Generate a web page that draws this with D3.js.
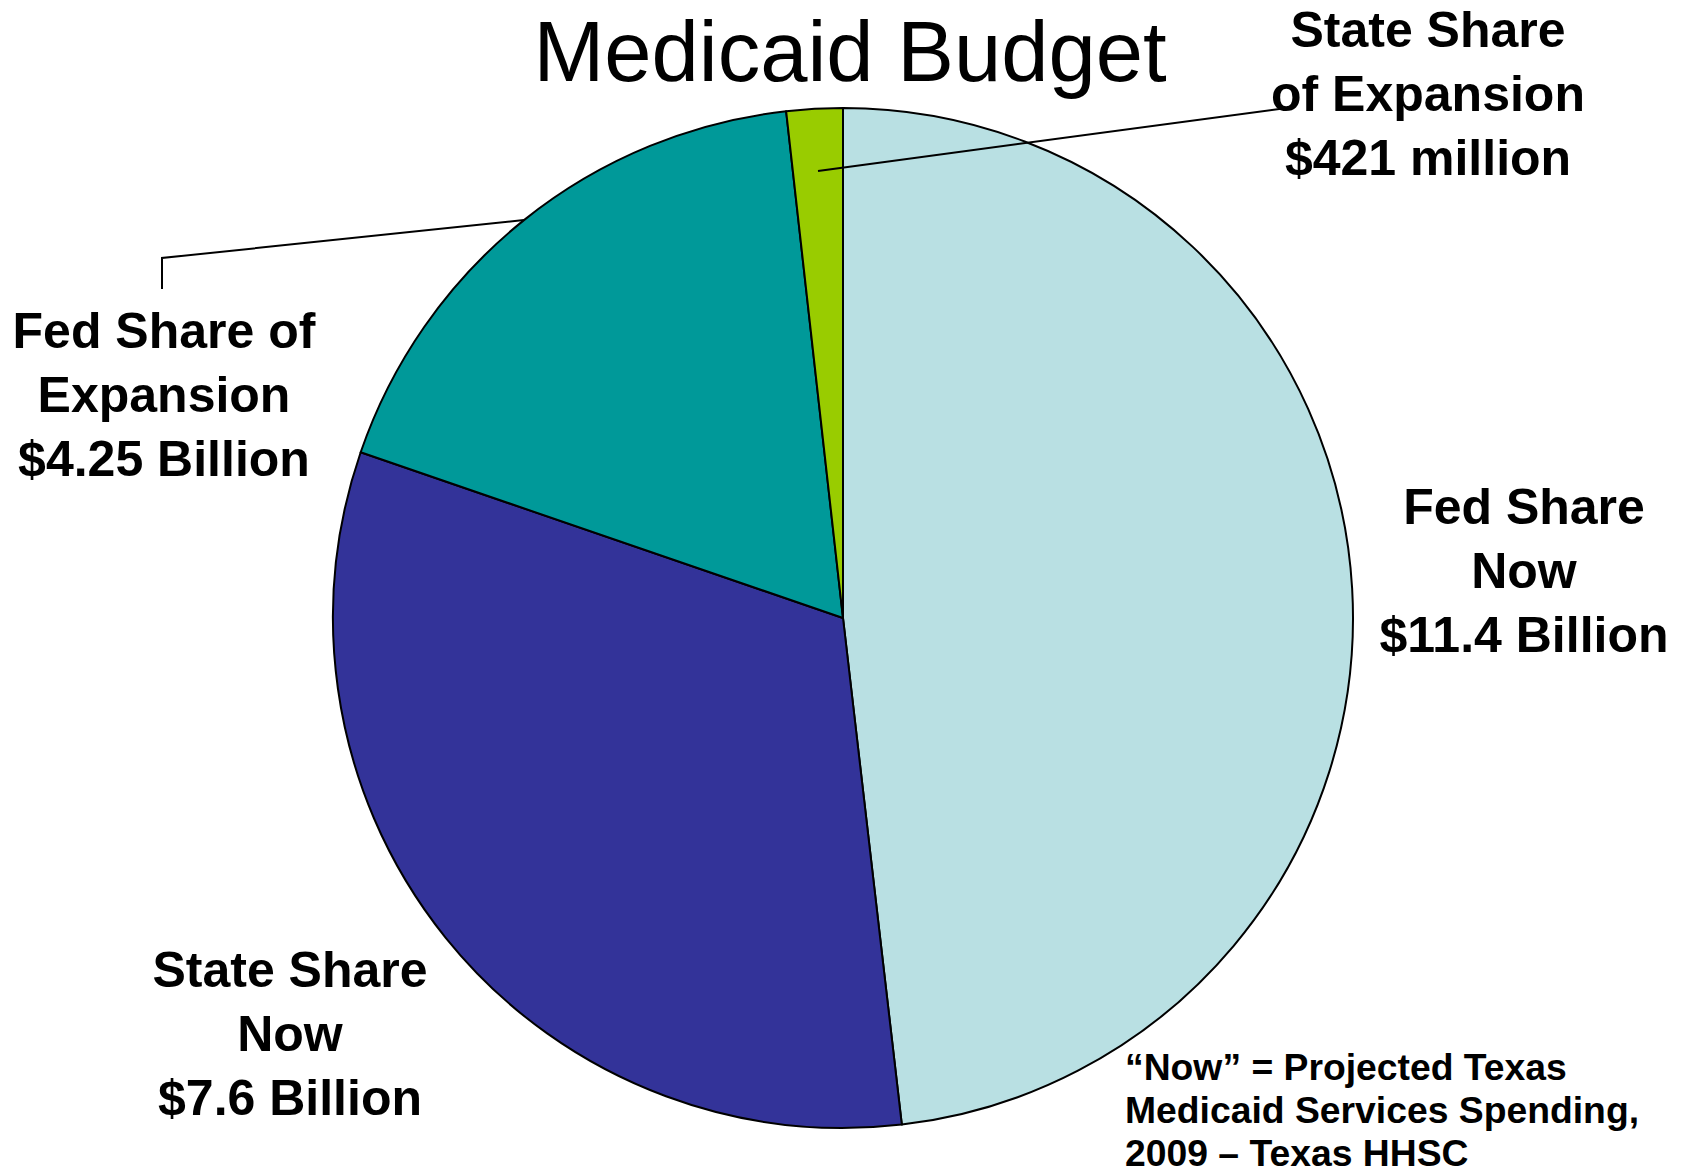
<!DOCTYPE html>
<html>
<head>
<meta charset="utf-8">
<script src="https://cdn.jsdelivr.net/npm/d3@7"></script>
<style>
  html, body { margin: 0; padding: 0; background: #fff; }
  svg { display: block; }
  text { font-family: "Liberation Sans", Arial, Helvetica, sans-serif; fill: #000; }
</style>
</head>
<body>
<svg id="chart" width="1682" height="1174"></svg>
<script>
// Medicaid budget components (billions of dollars), clockwise from 12 o'clock
const categories = ["Fed Share Now", "State Share Now", "Fed Share of Expansion", "State Share of Expansion"];
const values = [11.4, 7.6, 4.25, 0.421];
const labelLines = [
  ["Fed Share", "Now", "$11.4 Billion"],
  ["State Share", "Now", "$7.6 Billion"],
  ["Fed Share of", "Expansion", "$4.25 Billion"],
  ["State Share", "of Expansion", "$421 million"]
];
const colors = ["#B9E0E3", "#333399", "#009999", "#99CC00"];
const title = "Medicaid Budget";
const noteLines = ["\u201CNow\u201D = Projected Texas", "Medicaid Services Spending,", "2009 \u2013 Texas HHSC"];

const svg = d3.select("#chart");
const cx = 843, cy = 618, radius = 510;

const data = categories.map((c, i) => ({ name: c, value: values[i], lines: labelLines[i], color: colors[i] }));

const pie = d3.pie().sort(null).value(d => d.value);
const arc = d3.arc().innerRadius(0).outerRadius(radius);
const arcs = pie(data);

const g = svg.append("g").attr("transform", `translate(${cx},${cy})`);
g.selectAll("path.slice")
  .data(arcs)
  .join("path")
  .attr("class", "slice")
  .attr("d", arc)
  .attr("fill", d => d.data.color)
  .attr("stroke", "#000")
  .attr("stroke-width", 2)
  .attr("stroke-linejoin", "round");

// Title
svg.append("text")
  .attr("x", 850).attr("y", 81)
  .attr("text-anchor", "middle")
  .attr("font-size", 85)
  .text(title);

// Label placement (centre x, first baseline)
const labelPos = [
  { x: 1524, y: 524 },
  { x: 290, y: 987 },
  { x: 164, y: 348 },
  { x: 1428, y: 47 }
];
const lineGap = 64;

arcs.forEach((a, i) => {
  const t = svg.append("text")
    .attr("text-anchor", "middle")
    .attr("font-size", 50)
    .attr("font-weight", "bold");
  a.data.lines.forEach((ln, j) => {
    t.append("tspan").attr("x", labelPos[i].x).attr("y", labelPos[i].y + j * lineGap).text(ln);
  });
});

// Leader lines for the two expansion slices
const mid = a => (a.startAngle + a.endAngle) / 2;
const leader = d3.line();

const fedExp = arcs[2];
const p0 = d3.pointRadial(mid(fedExp), radius);
svg.append("path")
  .attr("d", leader([[cx + p0[0], cy + p0[1]], [162, 258], [162, 289]]))
  .attr("fill", "none").attr("stroke", "#000").attr("stroke-width", 2);

const stateExp = arcs[3];
const p1 = d3.pointRadial(mid(stateExp), radius * 0.878);
svg.append("path")
  .attr("d", leader([[cx + p1[0], cy + p1[1]], [1294, 107]]))
  .attr("fill", "none").attr("stroke", "#000").attr("stroke-width", 2);

// Source note
const note = svg.append("text")
  .attr("font-size", 37.3)
  .attr("font-weight", "bold");
noteLines.forEach((ln, j) => {
  note.append("tspan").attr("x", 1125).attr("y", 1080 + j * 43).text(ln);
});
</script>
</body>
</html>
